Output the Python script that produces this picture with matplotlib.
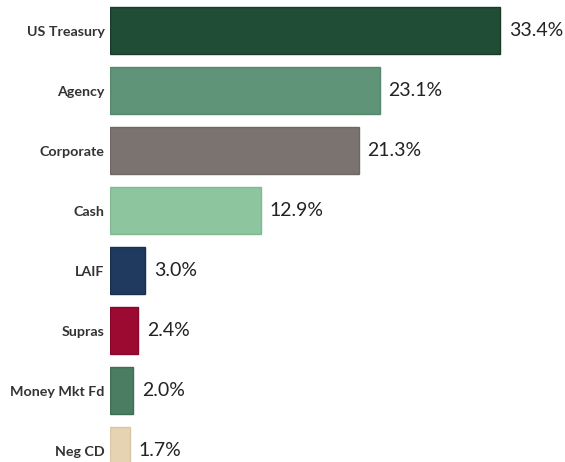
import matplotlib.pyplot as plt

# Portfolio allocation by sector (percent of total)
sectors = ['US Treasury', 'Agency', 'Corporate', 'Cash', 'LAIF', 'Supras',
           'Money Mkt Fd', 'Neg CD']
allocation = [33.4, 23.1, 21.3, 12.9, 3.0, 2.4, 2.0, 1.7]
bar_colors = ['#1f4d35', '#5f9479', '#7b7370', '#8dc59e', '#1f3a5e',
              '#9c0a32', '#4b7d63', '#e6d3b1']
edge_colors = ['#173d2a', '#55876d', '#6e6764', '#80b890', '#18304f',
               '#8a062a', '#3f6d55', '#d8c6a4']

plt.rcParams['font.family'] = ['Lato', 'DejaVu Sans']

fig = plt.figure(figsize=(5.65, 4.62), dpi=100)
ax = fig.add_axes([110 / 565, 0, 455 / 565, 1])

positions = list(range(len(sectors)))
ax.barh(positions, allocation, height=0.79, color=bar_colors,
        edgecolor=edge_colors, linewidth=1.0)

# value labels just past the end of each bar
for pos, val in zip(positions, allocation):
    ax.text(val + 0.75, pos, f'{val:.1f}%', va='center', ha='left',
            fontsize=14, color='#222222')

ax.set_yticks(positions)
ax.set_yticklabels(sectors, fontsize=10.3, fontweight='bold', color='#333333')
ax.tick_params(axis='y', length=0, pad=4)
ax.set_xticks([])

ax.set_xlim(0, 455 / 11.68)
ax.set_ylim((462 - 30.5) / 60, -30.5 / 60)

for side in ax.spines.values():
    side.set_visible(False)

plt.savefig('out.png', dpi=100)
plt.close()
